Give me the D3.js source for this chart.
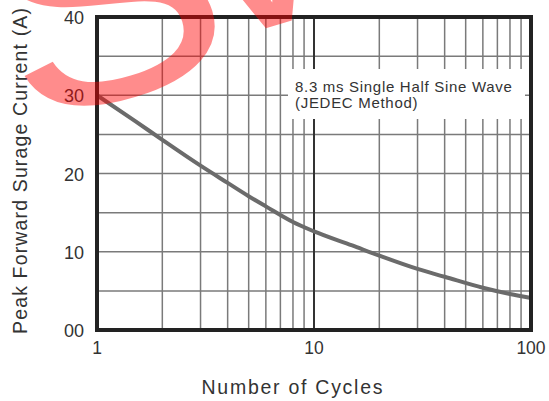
<!DOCTYPE html>
<html>
<head>
<meta charset="utf-8">
<script src="https://cdn.jsdelivr.net/npm/d3@7"></script>
<style>
  body { margin: 0; background: #fff; }
  text { font-family: "Liberation Sans", Arial, sans-serif; }
</style>
</head>
<body>
<svg id="chart" width="549" height="401"></svg>
<script>
// data
var cycles = [1, 1.5, 2, 3, 4, 5, 6, 8, 10, 15, 20, 30, 40, 60, 80, 100];
var current = [30, 26.7, 24.3, 21.0, 18.8, 17.1, 15.8, 13.8, 12.6, 10.8, 9.5, 7.8, 6.8, 5.4, 4.6, 4.1];
var yTicks = [0, 10, 20, 30, 40];
var yTickLabels = ["00", "10", "20", "30", "40"];
var xTicks = [1, 10, 100];
var legendLines = ["8.3 ms Single Half Sine Wave", "(JEDEC Method)"];

var svg = d3.select("#chart");
var pLeft = 97, pRight = 531, pTop = 17, pBottom = 330;

var x = d3.scaleLog().domain([1, 100]).range([pLeft, pRight]);
var y = d3.scaleLinear().domain([0, 40]).range([pBottom, pTop]);

// minor grid
var xMinor = [];
[1, 10].forEach(function (d) {
    for (var i = 2; i <= 9; i++) xMinor.push(d * i);
});
var yMinor = d3.range(5, 40, 5);

var grid = svg.append("g");
grid.selectAll(".hgrid")
    .data(yMinor)
    .enter()
    .append("line")
    .attr("x1", pLeft).attr("x2", pRight)
    .attr("y1", function (d) { return y(d); })
    .attr("y2", function (d) { return y(d); })
    .style("stroke", "#7a7a7a")
    .style("stroke-width", 1.5);

grid.selectAll(".vgrid")
    .data(xMinor)
    .enter()
    .append("line")
    .attr("x1", function (d) { return x(d); })
    .attr("x2", function (d) { return x(d); })
    .attr("y1", pTop).attr("y2", pBottom)
    .style("stroke", "#7a7a7a")
    .style("stroke-width", 1.5);

// decade line
grid.append("line")
    .attr("x1", x(10)).attr("x2", x(10))
    .attr("y1", pTop).attr("y2", pBottom)
    .style("stroke", "#333")
    .style("stroke-width", 2);

// legend box hides the grid
svg.append("rect")
    .attr("x", 288).attr("y", 69)
    .attr("width", 237).attr("height", 50)
    .style("fill", "#fff");

svg.selectAll(".legend")
    .data(legendLines)
    .enter()
    .append("text")
    .attr("x", 295)
    .attr("y", function (d, i) { return 92 + i * 16; })
    .style("font-size", "15px")
    .style("letter-spacing", "0.7px")
    .style("fill", "#333")
    .text(function (d) { return d; });

// curve
var line = d3.line()
    .x(function (d, i) { return x(cycles[i]); })
    .y(function (d) { return y(d); })
    .curve(d3.curveMonotoneX);

svg.append("path")
    .attr("d", line(current))
    .style("fill", "none")
    .style("stroke", "#6b6b6b")
    .style("stroke-width", 4);

// frame
svg.append("rect")
    .attr("x", pLeft).attr("y", pTop)
    .attr("width", pRight - pLeft).attr("height", pBottom - pTop)
    .style("fill", "none")
    .style("stroke", "#222")
    .style("stroke-width", 4);

// tick labels
svg.selectAll(".ylab")
    .data(yTicks)
    .enter()
    .append("text")
    .attr("x", 84)
    .attr("y", function (d) { return y(d) + 7; })
    .attr("text-anchor", "end")
    .style("font-size", "18px")
    .style("fill", "#333")
    .text(function (d, i) { return yTickLabels[i]; });

svg.selectAll(".xlab")
    .data(xTicks)
    .enter()
    .append("text")
    .attr("x", function (d) { return x(d); })
    .attr("y", 354)
    .attr("text-anchor", "middle")
    .style("font-size", "17.5px")
    .style("fill", "#333")
    .text(function (d) { return d; });

svg.append("text")
    .attr("x", 292).attr("y", 394)
    .attr("text-anchor", "middle")
    .attr("textLength", 181)
    .attr("lengthAdjust", "spacing")
    .style("font-size", "19.5px")
    .style("fill", "#333")
    .text("Number of Cycles");

svg.append("text")
    .attr("transform", "translate(27,171) rotate(-90)")
    .attr("text-anchor", "middle")
    .attr("textLength", 326)
    .attr("lengthAdjust", "spacing")
    .style("font-size", "19.5px")
    .style("fill", "#333")
    .text("Peak Forward Surage Current (A)");

// watermark
svg.append("text")
    .attr("transform", "translate(24,128) rotate(-17) scale(1.15,1)")
    .style("font-size", "300px")
    .style("fill", "rgba(255,0,0,0.45)")
    .text("S");
svg.append("text")
    .attr("transform", "translate(267,28) rotate(-17)")
    .attr("x", -81)
    .style("font-size", "280px")
    .style("fill", "rgba(255,0,0,0.45)")
    .text("V");
</script>
</body>
</html>
